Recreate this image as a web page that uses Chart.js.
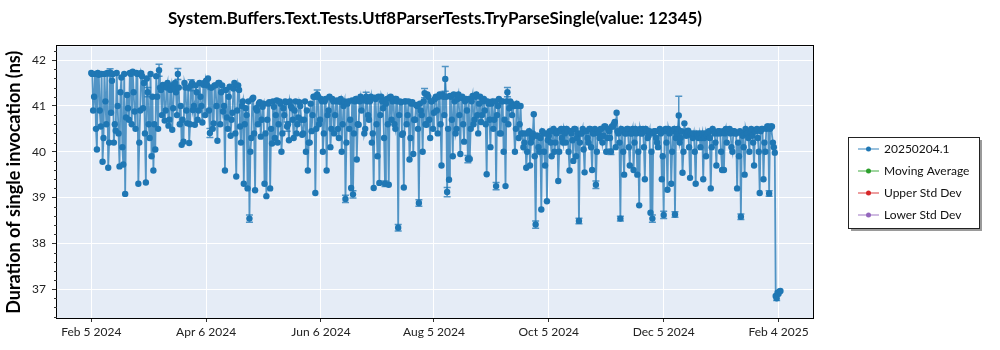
<!DOCTYPE html>
<html>
<head>
<meta charset="utf-8">
<script src="https://cdn.jsdelivr.net/npm/chart.js@4.4.1/dist/chart.umd.min.js"></script>
<style>
  html, body { margin: 0; background: #fff; }
  #wrap { width: 1000px; height: 350px; }
</style>
</head>
<body>
<div id="wrap"><canvas id="chart"></canvas></div>
<script>
const FONT = 'Lato, "Noto Sans", sans-serif';
const chartTitle = 'System.Buffers.Text.Tests.Utf8ParserTests.TryParseSingle(value: 12345)';
const yTitle = 'Duration of single invocation (ns)';

// legend entries (only the first series has data)
const seriesNames = ['20250204.1', 'Moving Average', 'Upper Std Dev', 'Lower Std Dev'];
const seriesColors = ['#1f77b4', '#2ca02c', '#d62728', '#9467bd'];

// x axis: days since Feb 5 2024
const tickDays = [0, 61, 122, 182, 243, 304, 365];
const tickLabels = ['Feb 5 2024', 'Apr 6 2024', 'Jun 6 2024', 'Aug 5 2024', 'Oct 5 2024', 'Dec 5 2024', 'Feb 4 2025'];
const yTicks = [37, 38, 39, 40, 41, 42];

// first run of each day, starting Feb 5 2024 (ns)
const values = [
  41.72, 40.90, 41.70, 40.05, 41.68, 40.55, 39.78, 41.70, 40.60, 39.65,
  41.73, 41.55, 40.20, 40.46, 41.00, 39.68, 41.62, 39.72, 39.08, 41.24,
  40.70, 41.70, 41.75, 40.88, 41.72, 39.30, 40.90, 41.65, 41.50, 39.33,
  41.30, 40.30, 39.90, 39.59, 40.05, 41.20, 41.78, 41.35,
  41.46, 40.68, 41.40, 40.57, 41.35, 40.48, 41.42, 41.30, 41.70, 40.60,
  40.15, 40.22, 41.40, 40.62, 40.19, 41.45, 40.91, 40.59, 41.30, 40.90,
  41.20, 40.64, 41.50,
  41.55, 41.60, 40.41, 41.40, 40.62, 41.45, 40.24, 41.50, 41.30, 40.88,
  39.59, 40.75, 41.20, 40.35, 40.85, 41.50, 39.46, 41.45, 40.55, 41.00,
  39.30, 40.95, 39.20, 38.54, 40.30, 41.18, 39.16, 40.90,
  41.05, 40.33, 40.98, 39.30, 39.03, 41.05, 39.20,
  40.18, 40.98, 40.80, 40.20, 41.10, 40.00, 40.95, 41.10, 40.55, 40.25, 41.00, 40.70, 40.90, 40.40, 40.75, 41.00,
  40.37, 40.70, 40.00, 39.59, 40.20, 40.45,
  41.20, 39.10, 41.25, 40.60, 41.15, 40.00, 41.10, 39.59, 40.90, 40.10, 41.15, 40.40, 41.10,
  40.50, 41.09, 40.00, 41.00, 38.97, 41.05, 40.50, 39.21, 39.07, 41.10, 39.83, 40.59, 41.20,
  41.15, 40.40, 41.20, 40.80, 41.10, 40.20, 39.21, 41.15, 39.90, 39.32, 41.20, 40.95, 39.30, 41.15, 39.28, 41.20,
  41.10, 40.60, 41.15, 38.34, 41.10, 40.37, 39.22, 41.10,
  40.80, 39.83, 41.05, 39.95, 40.70, 41.00, 38.88, 40.90, 40.00, 41.28, 40.59, 41.20, 40.30, 41.10, 40.85, 41.20,
  40.40, 41.25, 39.70, 41.20, 41.59, 39.12, 39.39,
  41.20, 39.90, 41.10, 40.50, 41.25, 39.95,
  41.20, 40.22, 41.15, 39.84, 39.84, 41.10, 40.60, 41.20, 40.80, 41.05, 40.65, 41.10,
  40.90, 39.51, 41.05, 40.10, 41.10, 40.70, 39.25, 41.00, 40.40, 41.10, 40.00, 39.25, 41.30, 40.95,
  41.06, 41.00, 40.00, 41.05, 40.30, 41.00, 40.40,
  40.20, 39.65, 40.40, 39.70, 40.30, 40.82, 38.41, 40.35, 40.00, 38.74, 40.40, 39.70, 38.92, 40.35, 40.20,
  40.45, 40.00, 40.40, 39.36, 40.45, 40.30, 40.50, 40.20, 40.45, 39.59, 40.40, 39.80, 40.50, 40.30, 38.49, 40.40,
  40.50, 39.55, 40.45, 40.20, 40.50, 39.60, 40.40, 39.28, 40.45, 40.30, 40.50, 40.35, 40.55, 40.30,
  40.45, 40.00, 40.55, 40.65, 40.85, 40.40, 38.54, 40.45, 39.50, 40.40, 40.50, 39.70, 40.40, 39.60, 40.50, 39.50, 38.83,
  40.40, 40.50, 39.40, 40.45, 40.35, 38.67, 38.54, 40.45, 40.30, 40.10, 40.50, 39.40,
  38.62, 40.50, 39.17, 40.40, 39.30, 40.45, 38.63, 40.40,
  40.79, 40.30, 39.54, 40.62, 40.35, 40.46, 39.43,
  40.35, 40.40, 39.30, 40.35, 40.40, 40.30, 39.40, 40.40, 40.35, 40.45, 39.20, 40.50,
  40.40, 39.70, 40.45, 40.40, 39.60, 39.60, 40.50, 40.45, 40.50, 40.10, 40.45, 40.40, 39.20, 39.90, 38.58,
  40.35, 39.50, 40.40, 40.30, 40.45, 40.35, 39.70, 40.45, 40.30, 39.10, 40.50, 39.40, 40.00, 40.55, 39.09,
  40.55, 40.20, 39.98, 36.80, 36.90, 36.96
];

// second run of each day, half a day later (ns)
const values2 = [
  41.70, 41.20, 40.50, 41.72, 40.90, 41.70, 40.30, 41.10, 41.72, 40.20,
  40.85, 41.70, 40.60, 41.72, 40.40, 41.30, 40.10, 41.70, 40.75, 40.95,
  41.72, 40.60, 41.30, 40.50, 41.70, 40.20, 41.72, 40.95, 40.40, 41.60,
  40.60, 41.70, 41.20, 40.60, 41.65, 40.50, 41.40, 40.80, 41.45, 40.90,
  41.50, 40.70, 41.45, 40.95, 41.50, 40.80, 41.40, 41.00, 40.70, 41.50,
  40.90, 41.40, 40.60, 41.50, 41.00, 41.45, 40.70, 41.50, 41.00, 41.46,
  40.80, 41.45, 40.90, 41.40, 40.50, 41.45, 41.00, 41.50, 40.60, 41.45,
  41.00, 41.35, 40.50, 41.42, 40.70, 41.38, 40.40, 40.90, 41.35, 40.20,
  41.10, 40.60, 40.80, 41.10, 40.00, 41.15, 40.40, 40.95, 40.60, 41.08,
  40.70, 41.05, 40.40, 40.70, 41.08, 40.50, 41.10, 40.30, 41.12, 40.60,
  41.05, 40.40, 40.80, 41.08, 40.60, 41.10, 40.95, 40.30, 41.10, 40.60,
  41.08, 40.70, 40.40, 41.10, 40.90, 40.20, 41.05, 40.80, 41.20, 40.50,
  41.20, 40.70, 41.10, 40.40, 41.15, 40.80, 41.20, 40.50, 41.10, 40.80,
  41.12, 40.30, 41.15, 40.60, 41.10, 40.20, 41.10, 40.70, 41.12, 40.40,
  41.15, 40.60, 41.10, 40.90, 41.12, 40.50, 41.10, 40.70, 41.20, 40.40,
  41.18, 40.60, 41.20, 40.80, 41.10, 40.30, 41.05, 40.60, 41.18, 40.70,
  41.15, 40.50, 41.10, 40.80, 41.08, 40.40, 41.10, 40.60, 41.10, 40.30,
  41.08, 40.70, 41.02, 40.50, 41.05, 40.80, 41.10, 40.60, 41.25, 40.70,
  41.10, 40.50, 41.15, 40.90, 41.20, 40.60, 41.25, 40.80, 41.20, 40.50,
  41.22, 40.70, 41.25, 40.40, 41.15, 40.80, 41.18, 40.60, 41.10, 40.90,
  41.15, 40.50, 41.22, 40.70, 41.25, 40.40, 41.20, 40.80, 41.15, 40.60,
  41.10, 40.70, 41.05, 40.50, 41.10, 40.80, 41.15, 40.40, 41.10, 40.70,
  41.10, 40.60, 41.10, 40.80, 41.00, 40.50, 41.00, 40.60, 40.40, 40.10,
  40.40, 40.00, 40.45, 40.20, 40.40, 39.90, 40.35, 40.10, 40.30, 40.45,
  40.00, 40.40, 40.25, 40.45, 39.90, 40.50, 40.20, 40.45, 40.00, 40.50,
  40.20, 40.40, 40.50, 40.00, 40.45, 40.25, 40.50, 39.90, 40.40, 40.20,
  40.40, 40.05, 40.45, 40.30, 40.50, 40.10, 40.40, 40.50, 40.00, 40.40,
  40.50, 40.20, 40.55, 40.00, 40.50, 40.30, 40.55, 40.60, 40.10, 40.45,
  40.20, 40.50, 40.00, 40.40, 40.50, 40.10, 40.40, 40.50, 40.20, 40.40,
  40.00, 40.50, 40.40, 40.10, 40.50, 40.30, 40.45, 40.00, 40.40, 40.45,
  40.20, 40.45, 40.40, 39.90, 40.45, 40.20, 40.50, 40.45, 40.00, 40.50,
  40.30, 40.50, 40.20, 40.45, 40.00, 40.40, 40.45, 40.10, 40.40, 40.30,
  40.00, 40.40, 40.30, 40.10, 40.40, 40.30, 39.90, 40.40, 40.30, 40.10,
  40.45, 40.20, 40.40, 40.45, 40.00, 40.45, 40.40, 40.20, 40.45, 40.40,
  40.00, 40.45, 40.40, 40.20, 40.45, 40.40, 40.10, 40.50, 40.40, 40.00,
  40.50, 40.20, 40.45, 40.50, 40.00, 40.45, 40.50, 40.20, 40.50, 40.55,
  40.50, 40.55, 40.10, 36.85, 36.92, 36.95
];

// runs with a visible error bar: day index (first run) and half-width (ns)
const errDays  = [10, 30, 36, 46, 53, 63, 84, 104, 120, 135, 139, 146, 156, 163, 174, 177, 188, 189, 200, 215, 221, 236, 259, 268, 276, 281, 298, 304, 310, 312, 345, 360, 364];
const errSizes = [0.08, 0.10, 0.13, 0.12, 0.12, 0.10, 0.08, 0.10, 0.10, 0.08, 0.08, 0.10, 0.06, 0.07, 0.07, 0.10, 0.27, 0.10, 0.08, 0.08, 0.10, 0.08, 0.06, 0.08, 0.06, 0.05, 0.08, 0.08, 0.06, 0.42, 0.06, 0.06, 0.05];

const runs = values.map((v, d) => ({ x: d, y: v }))
  .concat(values2.map((v, d) => ({ x: d + 0.5, y: v })))
  .sort((a, b) => a.x - b.x);

const plotBg = {
  id: 'plotBg',
  beforeDraw(chart) {
    const { ctx, chartArea: a } = chart;
    ctx.save();
    ctx.fillStyle = '#e5ecf6';
    ctx.fillRect(a.left, a.top, a.right - a.left, a.bottom - a.top);
    ctx.restore();
  },
  afterDraw(chart) {
    const { ctx, chartArea: a, scales } = chart;
    ctx.save();
    ctx.strokeStyle = '#000';
    ctx.lineWidth = 1;
    ctx.strokeRect(Math.round(a.left) - 0.5, Math.round(a.top) - 0.5, Math.round(a.right - a.left) + 1, Math.round(a.bottom - a.top) + 1);
    // minor ticks on y
    ctx.strokeStyle = '#333';
    for (let v = 36.4; v < 42.3; v += 0.2) {
      if (Math.abs(v - Math.round(v)) < 1e-6) continue;
      const y = Math.round(scales.y.getPixelForValue(v)) + 0.5;
      ctx.beginPath();
      ctx.moveTo(a.left - 3, y);
      ctx.lineTo(a.left, y);
      ctx.stroke();
    }
    ctx.restore();
  }
};

const errorBars = {
  id: 'errorBars',
  beforeDatasetsDraw(chart) {
    const { ctx, scales: { x, y }, chartArea: a } = chart;
    ctx.save();
    ctx.beginPath();
    ctx.rect(a.left, a.top, a.right - a.left, a.bottom - a.top);
    ctx.clip();
    ctx.strokeStyle = 'rgba(31,119,180,0.75)';
    ctx.lineWidth = 1.5;
    errDays.forEach((d, i) => {
      const px = x.getPixelForValue(d);
      const top = y.getPixelForValue(values[d] + errSizes[i]);
      const bot = y.getPixelForValue(values[d] - errSizes[i]);
      ctx.beginPath();
      ctx.moveTo(px, top); ctx.lineTo(px, bot);
      ctx.moveTo(px - 3.5, top); ctx.lineTo(px + 3.5, top);
      ctx.moveTo(px - 3.5, bot); ctx.lineTo(px + 3.5, bot);
      ctx.stroke();
    });
    ctx.restore();
  }
};

const boxLegend = {
  id: 'boxLegend',
  afterDraw(chart) {
    const { ctx, chartArea: a } = chart;
    const w = 131, h = 91;
    const left = a.right + 35;
    const top = Math.round((a.top + a.bottom) / 2 - h / 2);
    ctx.save();
    ctx.fillStyle = '#9a9a9a';
    ctx.fillRect(left + 3, top + 3, w, h);
    ctx.fillStyle = '#fff';
    ctx.fillRect(left, top, w, h);
    ctx.strokeStyle = '#222';
    ctx.lineWidth = 1;
    ctx.strokeRect(left + 0.5, top + 0.5, w, h);
    ctx.font = '12px ' + FONT;
    ctx.textBaseline = 'middle';
    seriesNames.forEach((name, i) => {
      const y = top + 12 + i * 22;
      ctx.strokeStyle = seriesColors[i];
      ctx.globalAlpha = 0.6;
      ctx.lineWidth = 1.5;
      ctx.beginPath();
      ctx.moveTo(left + 10, y); ctx.lineTo(left + 31, y);
      ctx.stroke();
      ctx.globalAlpha = 1;
      ctx.fillStyle = seriesColors[i];
      ctx.beginPath();
      ctx.arc(left + 20.5, y, 2.5, 0, Math.PI * 2);
      ctx.fill();
      ctx.fillStyle = '#111';
      ctx.fillText(name, left + 36, y);
    });
    ctx.restore();
  }
};

const datasets = seriesNames.map((name, i) => ({
  label: name,
  data: i === 0 ? runs : [],
  borderColor: i === 0 ? 'rgba(31,119,180,0.75)' : seriesColors[i],
  backgroundColor: seriesColors[i],
  borderWidth: 1.8,
  pointRadius: 3.2,
  pointBorderWidth: 0,
  pointHoverRadius: 3.2,
  tension: 0,
}));

new Chart(document.getElementById('chart'), {
  type: 'line',
  data: { datasets },
  plugins: [plotBg, errorBars, boxLegend],
  options: {
    responsive: true,
    maintainAspectRatio: false,
    animation: false,
    events: [],
    layout: { padding: { left: 0, right: 187, top: 0, bottom: 0 } },
    plugins: {
      legend: { display: false },
      tooltip: { enabled: false },
      title: {
        display: true,
        text: chartTitle,
        fullSize: false,
        color: '#000',
        font: { family: FONT, size: 17, weight: 'bold' },
        padding: { top: 8, bottom: 18 },
      },
    },
    scales: {
      x: {
        type: 'linear',
        min: -18.2,
        max: 383.3,
        afterBuildTicks: s => { s.ticks = tickDays.map(v => ({ value: v })); },
        afterFit: s => { s.height = 32; },
        ticks: {
          autoSkip: false,
          maxRotation: 0,
          padding: 3,
          color: '#222',
          font: { family: FONT, size: 12 },
          callback: v => tickLabels[tickDays.indexOf(v)] ?? '',
        },
        grid: { color: '#fff', lineWidth: 1, tickLength: 4, tickColor: '#333' },
        border: { display: false },
      },
      y: {
        min: 36.37,
        max: 42.3,
        afterBuildTicks: s => { s.ticks = yTicks.map(v => ({ value: v })); },
        afterFit: s => { s.width = 57; },
        title: {
          display: true,
          text: yTitle,
          color: '#000',
          font: { family: FONT, size: 18, weight: 'bold' },
          padding: { top: 3, bottom: 0 },
        },
        ticks: {
          autoSkip: false,
          padding: 6,
          color: '#222',
          font: { family: FONT, size: 12 },
          callback: v => String(v),
        },
        grid: { color: '#fff', lineWidth: 1, tickLength: 5, tickColor: '#333' },
        border: { display: false },
      },
    },
  },
});
</script>
</body>
</html>
